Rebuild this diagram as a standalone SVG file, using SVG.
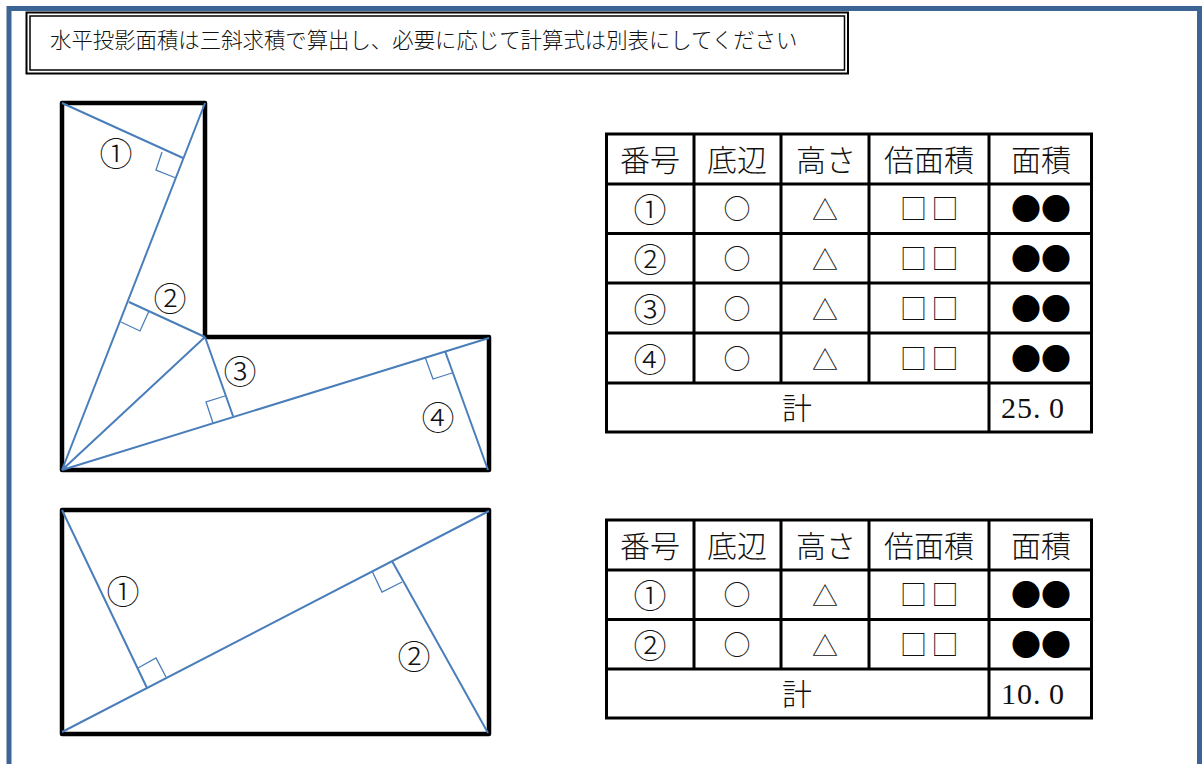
<svg xmlns="http://www.w3.org/2000/svg" width="1202" height="764" viewBox="0 0 1202 764">
<style>
text{font-family:"Noto Sans CJK JP","Noto Sans CJK SC",sans-serif;font-weight:300;fill:#111}
.c{font-size:30px;text-anchor:middle}
.r{font-size:33px;text-anchor:middle}
.o{font-size:27px;text-anchor:middle}
.a{font-size:26px;text-anchor:middle}
.s{font-size:27px;text-anchor:middle}
.f{font-size:30px;text-anchor:middle;fill:#000}
.n{font-family:"Liberation Serif","Noto Sans CJK JP",serif;font-size:30px;font-weight:400}
.g{fill:none;stroke:#000;stroke-width:4.500;stroke-linejoin:round}
.b{fill:none;stroke:#4a7ebb;stroke-width:2}
.m{fill:none;stroke:#4a7ebb;stroke-width:1.300}
.t{fill:none;stroke:#000;stroke-width:3}
</style>
<rect width="1202" height="764" fill="#fff"/>
<path d="M9 764V8.500H1199.500V764" fill="none" stroke="#3c6494" stroke-width="5"/>
<g id="note">
<rect x="26.500" y="12.500" width="821.500" height="61" fill="#fff" stroke="#000" stroke-width="2"/>
<rect x="30" y="16" width="814.500" height="54" fill="none" stroke="#000" stroke-width="1.500"/>
<text x="50" y="48" font-size="21.400">水平投影面積は三斜求積で算出し、必要に応じて計算式は別表にしてください</text>
</g>
<g id="figure-1">
<path class="g" d="M62 103H205V337H489V470H62Z"/>
<g id="connectors-1">
<path class="b" d="M62 103L183 158M205 103L62 470M129 302L205 337M205 337L62 470M205 337L233 416M489 338L62 470M445 351L488 470"/>
<path class="m" d="M162 152L156 170L176 178M121 322L140 331L149 311M225 396L206 402L213 423M425 357L433 379L452 373"/>
</g>
<text class="r" x="116" y="166">①</text>
<text class="r" x="170" y="311">②</text>
<text class="r" x="240" y="384">③</text>
<text class="r" x="438" y="430">④</text>
</g>
<g id="figure-2">
<path class="g" d="M62 510H489V734H62Z"/>
<g id="connectors-2">
<path class="b" d="M62 732L489 511M62 510L147 688M392 561L488 733"/>
<path class="m" d="M138 668L156 658L166 677M372 571L382 592L402 582"/>
</g>
<text class="r" x="123" y="604">①</text>
<text class="r" x="414" y="669">②</text>
</g>
<g id="table-1">
<path class="t" d="M606.500 134H1091.500V432H606.500ZM606.500 184H1091.500M606.500 233.500H1091.500M606.500 283H1091.500M606.500 333H1091.500M606.500 383H1091.500M694 134V383M781 134V383M869 134V383M989 134V432"/>
<text class="c" x="650" y="171">番号</text><text class="c" x="737" y="171">底辺</text><text class="c" x="826" y="171">高さ</text><text class="c" x="929" y="171">倍面積</text><text class="c" x="1041" y="171">面積</text>
<text class="r" x="650" y="222">①</text><text class="o" x="737" y="219">○</text><text class="a" x="825" y="220">△</text><text class="s" x="913.500 945" y="219">□□</text><text class="f" x="1041" y="220">●●</text>
<text class="r" x="650" y="272">②</text><text class="o" x="737" y="269">○</text><text class="a" x="825" y="270">△</text><text class="s" x="913.500 945" y="269">□□</text><text class="f" x="1041" y="270">●●</text>
<text class="r" x="650" y="322">③</text><text class="o" x="737" y="319">○</text><text class="a" x="825" y="320">△</text><text class="s" x="913.500 945" y="319">□□</text><text class="f" x="1041" y="320">●●</text>
<text class="r" x="650" y="372">④</text><text class="o" x="737" y="369">○</text><text class="a" x="825" y="370">△</text><text class="s" x="913.500 945" y="369">□□</text><text class="f" x="1041" y="370">●●</text>
<text class="c" x="797" y="419">計</text>
<text class="n" x="1001 1017 1033 1049" y="418">25.0</text>
</g>
<g id="table-2">
<path class="t" d="M606.500 520H1091.500V718H606.500ZM606.500 570H1091.500M606.500 619.500H1091.500M606.500 669H1091.500M694 520V669M781 520V669M869 520V669M989 520V718"/>
<text class="c" x="650" y="557">番号</text><text class="c" x="737" y="557">底辺</text><text class="c" x="826" y="557">高さ</text><text class="c" x="929" y="557">倍面積</text><text class="c" x="1041" y="557">面積</text>
<text class="r" x="650" y="608">①</text><text class="o" x="737" y="605">○</text><text class="a" x="825" y="606">△</text><text class="s" x="913.500 945" y="605">□□</text><text class="f" x="1041" y="606">●●</text>
<text class="r" x="650" y="658">②</text><text class="o" x="737" y="655">○</text><text class="a" x="825" y="656">△</text><text class="s" x="913.500 945" y="655">□□</text><text class="f" x="1041" y="656">●●</text>
<text class="c" x="797" y="705">計</text>
<text class="n" x="1001 1017 1033 1049" y="704">10.0</text>
</g>
</svg>
